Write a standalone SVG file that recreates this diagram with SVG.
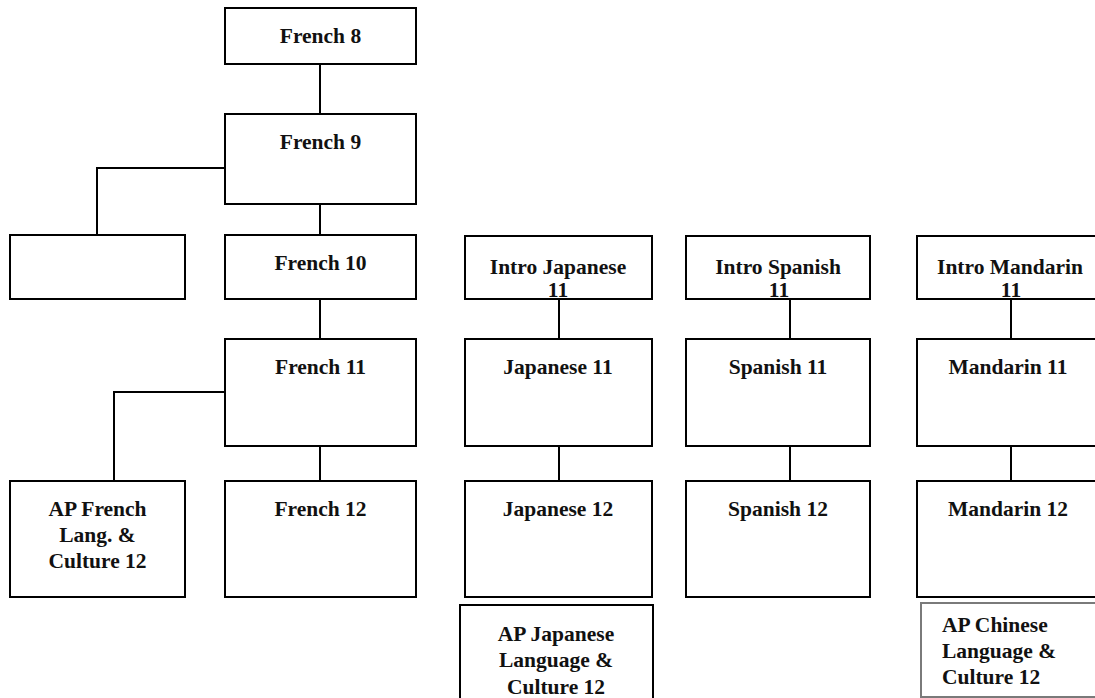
<svg xmlns="http://www.w3.org/2000/svg" width="1095" height="698" viewBox="0 0 1095 698">
  <style>
    .box { fill: #ffffff; stroke: #000000; stroke-width: 2; }
    .box-soft { fill: #ffffff; stroke: #7a7a7a; stroke-width: 2; }
    .link { fill: none; stroke: #000000; stroke-width: 2; }
    .lbl { font-family: "Liberation Serif", "Times New Roman", serif; font-weight: bold; font-size: 21.5px; fill: #111111; text-anchor: middle; }
    .lbl-left { text-anchor: start; }
  </style>
  <rect width="1095" height="698" fill="#ffffff"/>

  <!-- connectors -->
  <g id="connectors">
    <path class="link" d="M320 64 V114"/>
    <path class="link" d="M225 168 H97 V235"/>
    <path class="link" d="M320 204 V235"/>
    <path class="link" d="M320 299 V339"/>
    <path class="link" d="M225 392 H114 V481"/>
    <path class="link" d="M320 446 V481"/>
    <path class="link" d="M559 299 V339"/>
    <path class="link" d="M559 446 V481"/>
    <path class="link" d="M790 299 V339"/>
    <path class="link" d="M790 446 V481"/>
    <path class="link" d="M1011 299 V339"/>
    <path class="link" d="M1011 446 V481"/>
  </g>

  <!-- French track -->
  <g id="french8">
    <rect class="box" x="225" y="8" width="191" height="56"/>
    <text class="lbl" x="320.5" y="43">French 8</text>
  </g>
  <g id="french9">
    <rect class="box" x="225" y="114" width="191" height="90"/>
    <text class="lbl" x="320.5" y="149">French 9</text>
  </g>
  <g id="blank">
    <rect class="box" x="10" y="235" width="175" height="64"/>
  </g>
  <g id="french10">
    <rect class="box" x="225" y="235" width="191" height="64"/>
    <text class="lbl" x="320.5" y="270">French 10</text>
  </g>
  <g id="french11">
    <rect class="box" x="225" y="339" width="191" height="107"/>
    <text class="lbl" x="320.5" y="374">French 11</text>
  </g>
  <g id="apfrench">
    <rect class="box" x="10" y="481" width="175" height="116"/>
    <text class="lbl" x="97.5" y="516">AP French</text>
    <text class="lbl" x="97.5" y="542">Lang. &amp;</text>
    <text class="lbl" x="97.5" y="568">Culture 12</text>
  </g>
  <g id="french12">
    <rect class="box" x="225" y="481" width="191" height="116"/>
    <text class="lbl" x="320.5" y="516">French 12</text>
  </g>

  <!-- Japanese track -->
  <g id="introjapanese">
    <rect class="box" x="465" y="236" width="187" height="63"/>
    <text class="lbl" x="558" y="274">Intro Japanese</text>
    <text class="lbl" x="558" y="296.5">11</text>
  </g>
  <g id="japanese11">
    <rect class="box" x="465" y="339" width="187" height="107"/>
    <text class="lbl" x="558" y="374">Japanese 11</text>
  </g>
  <g id="japanese12">
    <rect class="box" x="465" y="481" width="187" height="116"/>
    <text class="lbl" x="558" y="516">Japanese 12</text>
  </g>
  <g id="apjapanese">
    <rect class="box" x="460" y="605" width="193" height="100"/>
    <text class="lbl" x="556" y="641">AP Japanese</text>
    <text class="lbl" x="556" y="667">Language &amp;</text>
    <text class="lbl" x="556" y="694">Culture 12</text>
  </g>

  <!-- Spanish track -->
  <g id="introspanish">
    <rect class="box" x="686" y="236" width="184" height="63"/>
    <text class="lbl" x="778" y="274">Intro Spanish</text>
    <text class="lbl" x="779" y="296.5">11</text>
  </g>
  <g id="spanish11">
    <rect class="box" x="686" y="339" width="184" height="107"/>
    <text class="lbl" x="778" y="374">Spanish 11</text>
  </g>
  <g id="spanish12">
    <rect class="box" x="686" y="481" width="184" height="116"/>
    <text class="lbl" x="778" y="516">Spanish 12</text>
  </g>

  <!-- Mandarin track -->
  <g id="intromandarin">
    <rect class="box" x="917" y="236" width="190" height="63"/>
    <text class="lbl" x="1010" y="274">Intro Mandarin</text>
    <text class="lbl" x="1011" y="296.5">11</text>
  </g>
  <g id="mandarin11">
    <rect class="box" x="917" y="339" width="190" height="107"/>
    <text class="lbl" x="1008" y="374">Mandarin 11</text>
  </g>
  <g id="mandarin12">
    <rect class="box" x="917" y="481" width="190" height="116"/>
    <text class="lbl" x="1008" y="516">Mandarin 12</text>
  </g>
  <g id="apchinese">
    <rect class="box-soft" x="921" y="603" width="190" height="94"/>
    <text class="lbl lbl-left" x="942" y="632">AP Chinese</text>
    <text class="lbl lbl-left" x="942" y="658">Language &amp;</text>
    <text class="lbl lbl-left" x="942" y="684">Culture 12</text>
  </g>
</svg>
